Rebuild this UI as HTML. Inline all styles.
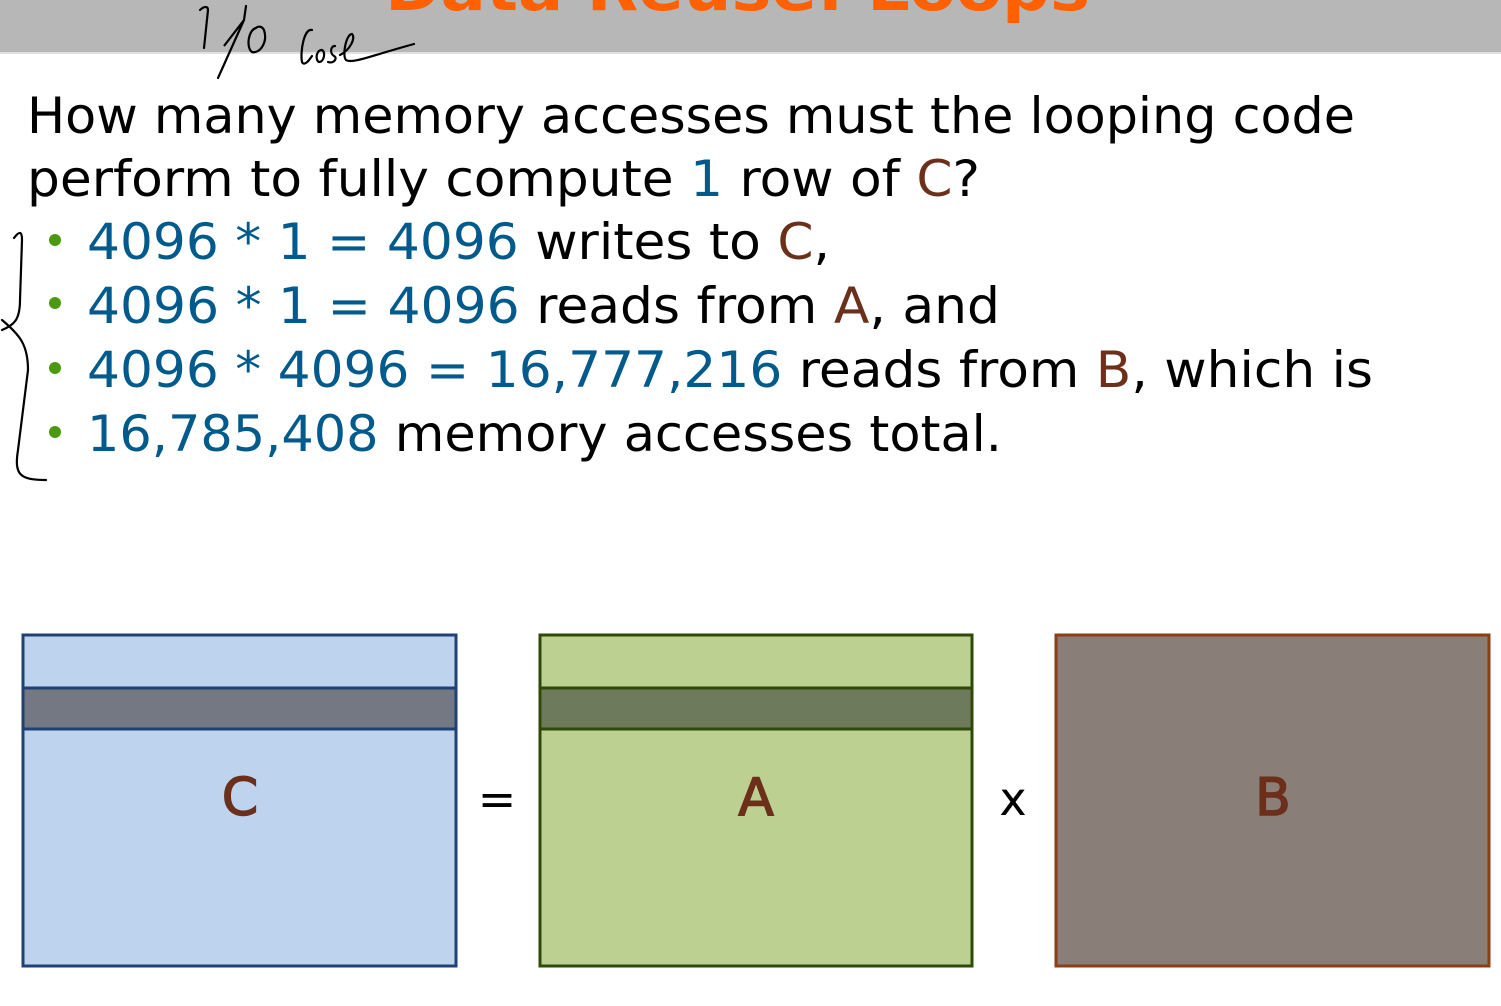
<!DOCTYPE html>
<html><head><meta charset="utf-8"><style>
html,body{margin:0;padding:0;background:#fff;}
svg{display:block;}
</style></head><body>
<svg width="1501" height="1006" viewBox="0 0 1501 1006" xmlns="http://www.w3.org/2000/svg">
<rect x="0" y="0" width="1501" height="52" fill="#b7b7b7"/>
<rect x="0" y="52" width="1501" height="2" fill="#e0e0e0"/>
<text x="385" y="10" font-family="DejaVu Sans, sans-serif" font-weight="bold" font-size="62" fill="#ff6000" textLength="705" lengthAdjust="spacingAndGlyphs">Data Reuse: Loops</text>
<!-- handwriting -->
<g fill="none" stroke="#000" stroke-width="2.2" stroke-linecap="round">
<path d="M200 10 C204 6 208 6 208 10 L204 48"/>
<path d="M246 6 L244 20 L224 46 L244 20 L218 78"/>
<path d="M256 28 C248 30 246 48 252 52 C260 54 268 42 264 30 C262 26 258 26 256 28"/>
<path d="M14 238 C20 230 22 232 22 240 L20 300 C20 320 14 325 2 330"/>
<path d="M2 320 C20 335 28 345 28 370 L18 450 C14 475 20 480 46 480"/>
</g>
<g transform="translate(200,0)"><g fill="none" stroke="#000" stroke-width="2.2" stroke-linecap="round">
<path d="M112 30 C104 28 100 52 102 62 C104 66 108 62 112 56"/>
<path d="M122 50 C116 50 115 60 119 62 C124 62 126 52 122 50"/>
<path d="M135 46 C130 46 130 54 134 56 C138 58 134 64 128 62"/>
<path d="M140 55 C150 50 156 38 152 34 C146 34 142 56 146 60 C152 64 170 56 214 44"/>
</g></g>
<g font-family="DejaVu Sans, sans-serif" font-size="50" fill="#000">
<text x="27" y="133" textLength="1328" lengthAdjust="spacingAndGlyphs">How many memory accesses must the looping code</text>
<text x="27" y="196" textLength="953" lengthAdjust="spacingAndGlyphs">perform to fully compute <tspan fill="#005a8c">1</tspan> row of <tspan fill="#6b2f1a">C</tspan>?</text>
<g fill="#4a9a10"><circle cx="55" cy="240" r="6"/><circle cx="55" cy="303" r="6"/><circle cx="55" cy="368" r="6"/><circle cx="55" cy="432" r="6"/></g>
<text x="87" y="259" textLength="743" lengthAdjust="spacingAndGlyphs"><tspan fill="#005a8c">4096 * 1 = 4096</tspan> writes to <tspan fill="#6b2f1a">C</tspan>,</text>
<text x="87" y="323" textLength="913" lengthAdjust="spacingAndGlyphs"><tspan fill="#005a8c">4096 * 1 = 4096</tspan> reads from <tspan fill="#6b2f1a">A</tspan>, and</text>
<text x="87" y="387" textLength="1286" lengthAdjust="spacingAndGlyphs"><tspan fill="#005a8c">4096 * 4096 = 16,777,216</tspan> reads from <tspan fill="#6b2f1a">B</tspan>, which is</text>
<text x="87" y="451" textLength="915" lengthAdjust="spacingAndGlyphs"><tspan fill="#005a8c">16,785,408</tspan> memory accesses total.</text>
</g>
<!-- matrices -->
<rect x="23" y="635" width="433" height="331" fill="#bed4ee" stroke="#1f4276" stroke-width="3"/>
<rect x="23" y="688" width="433" height="41" fill="#737883" stroke="#1f4276" stroke-width="3"/>
<rect x="540" y="635" width="432" height="331" fill="#bcd191" stroke="#2d4a08" stroke-width="3"/>
<rect x="540" y="688" width="432" height="41" fill="#6e7a5c" stroke="#2d4a08" stroke-width="3"/>
<rect x="1056" y="635" width="433" height="331" fill="#8a7e78" stroke="#8b3f12" stroke-width="3"/>
<g font-family="DejaVu Sans, sans-serif" font-size="52" fill="#6b2f1a" stroke="#6b2f1a" stroke-width="1.5" text-anchor="middle">
<text x="240" y="815">C</text>
<text x="756" y="815">A</text>
<text x="1273" y="815">B</text>
</g>
<g font-family="DejaVu Sans, sans-serif" font-size="46" fill="#000" text-anchor="middle">
<text x="497" y="815">=</text>
<text x="1013" y="815">x</text>
</g>
</svg>
</body></html>
